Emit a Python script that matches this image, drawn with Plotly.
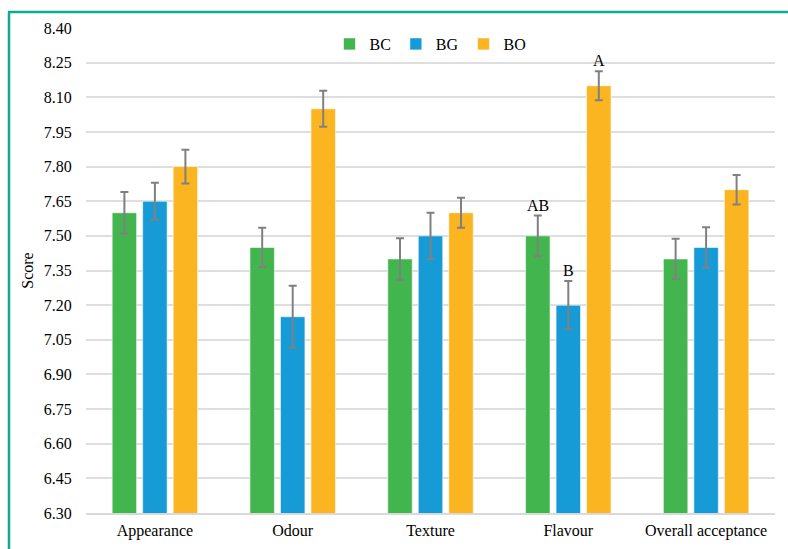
import plotly.graph_objects as go

categories = ["Appearance", "Odour", "Texture", "Flavour", "Overall acceptance"]
series_names = ["BC", "BG", "BO"]
bc_values = [7.60, 7.45, 7.40, 7.50, 7.40]
bg_values = [7.65, 7.15, 7.50, 7.20, 7.45]
bo_values = [7.80, 8.05, 7.60, 8.15, 7.70]
bc_err = [0.090, 0.085, 0.090, 0.088, 0.087]
bg_err = [0.080, 0.134, 0.100, 0.104, 0.087]
bo_err = [0.073, 0.078, 0.065, 0.063, 0.064]
colors = ["#43b54f", "#179bd7", "#fbb521"]
tick_vals = [6.30, 6.45, 6.60, 6.75, 6.90, 7.05, 7.20, 7.35, 7.50, 7.65, 7.80, 7.95, 8.10, 8.25, 8.40]
letters = [("Flavour", 0, "AB"), ("Flavour", 1, "B"), ("Flavour", 2, "A")]

values = [bc_values, bg_values, bo_values]
errs = [bc_err, bg_err, bo_err]

W, H = 788, 549
ml, mr, mt, mb = 86, 13, 28, 36
pw, ph = W - ml - mr, H - mt - mb

serif = "Liberation Serif"
bargap = 0.336
bargroupgap = 0.197

fig = go.Figure()
for name, vals, er, col in zip(series_names, values, errs, colors):
    fig.add_trace(go.Bar(
        name=name, x=categories, y=vals,
        marker=dict(color=col, line=dict(color="rgba(255,255,255,0.6)", width=1)),
        error_y=dict(type="data", array=er, visible=True, color="#808080", thickness=2, width=4),
    ))

slot = (1 - bargap) / 3
annotations = []
for cat, idx, txt in letters:
    ci = categories.index(cat)
    v = values[idx][ci] + errs[idx][ci]
    annotations.append(dict(
        x=ci + (idx - 1) * slot, y=v, xref="x", yref="y", text=txt, showarrow=False,
        yanchor="bottom", yshift=0, font=dict(family=serif, size=16, color="#000000"),
    ))

teal = "#11a896"
def px_x(p):
    return (p - ml) / pw
def px_y(p):
    return (H - mb - p) / ph

shapes = [
    dict(type="line", xref="paper", yref="paper", x0=px_x(9), x1=px_x(9), y0=px_y(12), y1=px_y(H + 5),
         line=dict(color=teal, width=2.5)),
    dict(type="line", xref="paper", yref="paper", x0=px_x(8), x1=px_x(W + 5), y0=px_y(12), y1=px_y(12),
         line=dict(color=teal, width=2.5)),
]

fig.update_layout(
    width=W, height=H,
    margin=dict(l=ml, r=mr, t=mt, b=mb, pad=0, autoexpand=False),
    paper_bgcolor="white", plot_bgcolor="white",
    barmode="group", bargap=bargap, bargroupgap=bargroupgap,
    font=dict(family=serif, size=16, color="#000000"),
    legend=dict(orientation="h", x=0.5, xanchor="center", y=px_y(44), yanchor="middle",
                bgcolor="rgba(0,0,0,0)", font=dict(family=serif, size=16), itemwidth=30),
    xaxis=dict(showgrid=False, showline=True, linecolor="#d9d9d9", linewidth=1.5,
               ticks="outside", ticklen=2, tickcolor="rgba(0,0,0,0)", automargin=False,
               tickfont=dict(family=serif, size=16)),
    yaxis=dict(range=[6.30, 8.40], tickvals=tick_vals, tickformat=".2f", automargin=False,
               showgrid=True, gridcolor="#dedede", gridwidth=1.5, zeroline=False,
               showline=False, ticks="outside", ticklen=10, tickcolor="rgba(0,0,0,0)",
               tickfont=dict(family=serif, size=16),
               title=dict(text="Score", font=dict(family=serif, size=16), standoff=6)),
    annotations=annotations,
    shapes=shapes,
)

fig.write_html("out.html")
